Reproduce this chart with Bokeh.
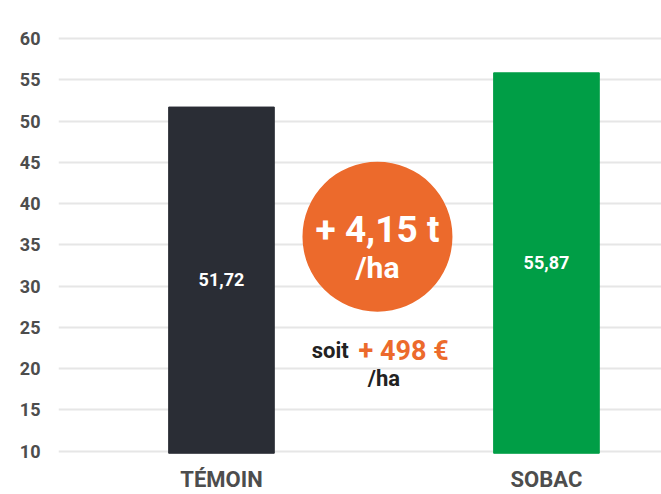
from bokeh.plotting import figure
from bokeh.models import ColumnDataSource, FixedTicker, Range1d
from bokeh.core.properties import value
from bokeh.embed import file_html
from bokeh.resources import INLINE

categories = ["TÉMOIN", "SOBAC"]
yields = [51.72, 55.87]
labels = ["51,72", "55,87"]
colors = ["#2a2d35", "#009e46"]
y_ticks = [10, 15, 20, 25, 30, 35, 40, 45, 50, 55, 60]
gain_text = "+ 4,15 t"
gain_unit = "/ha"
money_prefix = "soit"
money_text = "+ 498 €"
money_unit = "/ha"

FONT = "Roboto"
base = 9.75
xs = list(range(len(categories)))
mids = [(10 + v) / 2 for v in yields]

src = ColumnDataSource(dict(x=xs, top=yields, color=colors, label=labels, mid=mids))

p = figure(width=661, height=494, output_backend="svg", toolbar_location=None,
           x_range=Range1d(-0.5015, 1.354), y_range=Range1d(9.6, 61.0),
           min_border_left=58, min_border_right=0, min_border_top=30, min_border_bottom=38)
p.outline_line_color = None
p.background_fill_color = "white"
p.border_fill_color = "white"

p.vbar(x="x", top="top", bottom=base, width=0.325, color="color", source=src)
p.text(x="x", y="mid", text="label", source=src, text_color="white",
       text_font=value(FONT), text_font_style="bold", text_font_size="18px",
       text_align="center", text_baseline="middle")

# circle annotation
p.scatter(x=[0.48], y=[36.0], size=150, marker="circle", fill_color="#ec6a2c", line_color=None)
p.text(x=[0.48], y=[36.9], text=[gain_text], text_color="white", text_font=value(FONT),
       text_font_style="bold", text_font_size="37px", text_align="center", text_baseline="middle")
p.text(x=[0.48], y=[32.3], text=[gain_unit], text_color="white", text_font=value(FONT),
       text_font_style="bold", text_font_size="30px", text_align="center", text_baseline="middle")

p.text(x=[0.278], y=[22.2], text=[money_prefix], text_color="#222222", text_font=value(FONT),
       text_font_style="bold", text_font_size="22px", text_align="left", text_baseline="middle")
p.text(x=[0.422], y=[22.2], text=[money_text], text_color="#ec6a2c", text_font=value(FONT),
       text_font_style="bold", text_font_size="27px", text_align="left", text_baseline="middle")
p.text(x=[0.50], y=[18.8], text=[money_unit], text_color="#222222", text_font=value(FONT),
       text_font_style="bold", text_font_size="22px", text_align="center", text_baseline="middle")

p.xaxis.ticker = FixedTicker(ticks=xs)
p.xaxis.major_label_overrides = {i: c for i, c in zip(xs, categories)}
p.yaxis.ticker = FixedTicker(ticks=y_ticks)
for ax in (p.xaxis, p.yaxis):
    ax.axis_line_color = None
    ax.major_tick_line_color = None
    ax.minor_tick_line_color = None
    ax.major_tick_out = 0
    ax.major_tick_in = 0
    ax.minor_tick_out = 0
    ax.minor_tick_in = 0
    ax.major_label_text_font = FONT
    ax.major_label_text_font_style = "bold"
    ax.major_label_text_color = "#4d4d4d"
p.xaxis.major_label_text_font_size = "22px"
p.xaxis.major_label_standoff = 12
p.yaxis.major_label_text_font_size = "18px"
p.yaxis.major_label_standoff = 18
p.xgrid.grid_line_color = None
p.ygrid.ticker = FixedTicker(ticks=y_ticks)
p.ygrid.grid_line_color = "#e6e6e6"
p.ygrid.grid_line_width = 2
p.ygrid.level = "underlay"

open("out.html", "w").write(file_html(p, INLINE))
